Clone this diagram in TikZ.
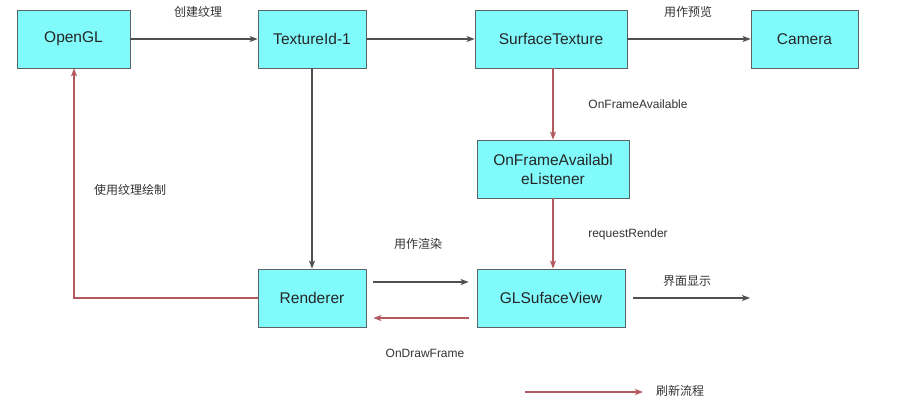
\documentclass[tikz,border=0pt]{standalone}
\usepackage{fontspec}
\setmainfont{Liberation Sans}
\newfontfamily\cjk{Noto Sans CJK SC}
\usetikzlibrary{arrows.meta}
\definecolor{boxfill}{RGB}{128,250,250}
\definecolor{boxline}{RGB}{90,100,100}
\definecolor{redline}{RGB}{180,90,95}
\definecolor{grayline}{RGB}{80,80,80}
\begin{document}
\begin{tikzpicture}[x=1pt,y=-1pt,
  box/.style={draw=boxline,fill=boxfill,line width=0.8pt,minimum height=58pt,font=\fontsize{15.5}{17}\selectfont,align=center,inner sep=2pt,text=black!85},
  garrow/.style={draw=grayline,line width=1.2pt,-{Stealth[length=8pt,width=6pt,inset=2pt]}},
  rarrow/.style={draw=redline,line width=1.2pt,-{Stealth[length=8pt,width=6pt,inset=2pt]}},
  lab/.style={font=\fontsize{12}{14}\selectfont,text=black!80},
  clab/.style={font=\cjk\fontsize{12}{14}\selectfont,text=black!80}]
\useasboundingbox[fill=white] (0,0) rectangle (920,413);
\node[box,minimum width=113pt] (gl) at (73.5,39) {OpenGL};
\node[box,minimum width=108pt] (tex) at (312,39) {TextureId-1};
\node[box,minimum width=152pt] (st) at (551,39) {SurfaceTexture};
\node[box,minimum width=107pt] (cam) at (804.5,39) {Camera};
\node[box,minimum width=152pt,font=\fontsize{15.5}{19}\selectfont] (lis) at (553,169) {OnFrameAvailabl\\eListener};
\node[box,minimum width=108pt] (ren) at (312,298) {Renderer};
\node[box,minimum width=148pt] (glv) at (551,298) {GLSufaceView};
\coordinate (outend) at (750,298);
\coordinate (corner) at (74,298);
\coordinate (lg1) at (525,392);
\coordinate (lg2) at (643,392);
\draw[garrow] (gl) -- (tex);
\draw[garrow] (tex) -- (st);
\draw[garrow] (st) -- (cam);
\draw[garrow] (tex) -- (ren);
\draw[rarrow] (lis.north |- st.south) -- (lis.north);
\draw[rarrow] (lis.south) -- (lis.south |- glv.north);
\draw[garrow] ([xshift=7pt,yshift=16pt]ren.east) -- ([xshift=-8pt,yshift=16pt]glv.west);
\draw[rarrow] ([xshift=-8pt,yshift=-20pt]glv.west) -- ([xshift=7pt,yshift=-20pt]ren.east);
\draw[garrow] ([xshift=8pt]glv.east) -- (outend);
\draw[rarrow] (ren.west) -- (corner) -- (corner |- gl.south);
\draw[rarrow] (lg1) -- (lg2);
\node[clab] (l1) at (198,12) {创建纹理};
\node[clab] (l2) at (688,12) {用作预览};
\node[lab] (l3) at (638,104) {OnFrameAvailable};
\node[lab] (l4) at (628,234) {requestRender};
\node[clab] (l5) at (418,244) {用作渲染};
\node[lab] (l6) at (425,353) {OnDrawFrame};
\node[clab] (l7) at (687,281) {界面显示};
\node[clab] (l8) at (130,190) {使用纹理绘制};
\node[clab] (l9) at (680,391) {刷新流程};
\end{tikzpicture}
\end{document}
